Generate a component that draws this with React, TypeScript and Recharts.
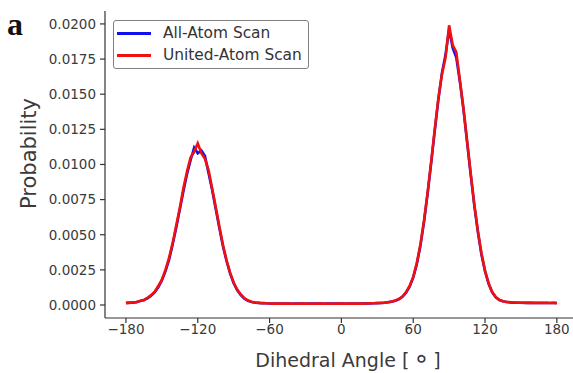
import React from "react";
import { LineChart, Line, XAxis, YAxis, Legend } from "recharts";

const angles = [
  -180, -177, -174, -171, -168, -165, -162, -159, -156, -153, -150, -147, -144, -141, -138, -135, -132, -129, -126, -123,
  -120, -117, -114, -111, -108, -105, -102, -99, -96, -93, -90, -87, -84, -81, -78, -75, -72, -69, -66, -63,
  -60, -57, -54, -51, -48, -45, -42, -39, -36, -33, -30, -27, -24, -21, -18, -15, -12, -9, -6, -3,
  0, 3, 6, 9, 12, 15, 18, 21, 24, 27, 30, 33, 36, 39, 42, 45, 48, 51, 54, 57,
  60, 63, 66, 69, 72, 75, 78, 81, 84, 87, 90, 93, 96, 99, 102, 105, 108, 111, 114, 117,
  120, 123, 126, 129, 132, 135, 138, 141, 144, 147, 150, 153, 156, 159, 162, 165, 168, 171, 174, 177,
  180,
];

const allAtomScan = [
  0.00015, 0.00018, 0.00016, 0.00022, 0.00028, 0.00036, 0.00048, 0.00066, 0.0009, 0.00125,
  0.00175, 0.0024, 0.0032, 0.0043, 0.0055, 0.0068, 0.0081, 0.0093, 0.0103, 0.0112,
  0.0108, 0.011, 0.0106, 0.0094, 0.0082, 0.00685, 0.0055, 0.0042, 0.00315, 0.00225,
  0.00155, 0.00105, 0.0007, 0.00045, 0.0003, 0.00022, 0.00017, 0.00015, 0.00013, 0.00012,
  0.00011,
  0.00011, 0.0001, 0.00011, 0.0001, 0.0001, 0.00009, 0.0001, 0.00011, 0.0001, 0.00009,
  0.0001, 0.0001, 0.00011, 0.0001, 0.00009, 0.0001, 0.0001, 0.00011, 0.0001, 0.0001,
  0.00009, 0.0001, 0.00011, 0.0001, 0.0001, 0.00011, 0.00012, 0.00011, 0.00012, 0.00013,
  0.00014, 0.00016,
  0.00019, 0.00024, 0.0003, 0.0004, 0.00058, 0.00088, 0.0013, 0.00195,
  0.0029, 0.0042, 0.0059, 0.0079, 0.0101, 0.0124, 0.0146, 0.0165, 0.0178, 0.0196,
  0.0183, 0.0176, 0.0159, 0.0139, 0.0116, 0.0093, 0.0071, 0.0052, 0.0036, 0.0024,
  0.0015, 0.0009, 0.00055, 0.00035, 0.00026, 0.00021, 0.00019, 0.00017, 0.00016, 0.00016,
  0.00015, 0.00016, 0.00015, 0.00014, 0.00015, 0.00014, 0.00015, 0.00014, 0.00015, 0.00014,
];

const unitedAtomScan = [
  0.00013, 0.00015, 0.00019, 0.0002, 0.0003, 0.00034, 0.00052, 0.0007, 0.00095, 0.00135,
  0.0018, 0.0025, 0.00335, 0.0044, 0.00565, 0.0069, 0.0083, 0.0095, 0.0105, 0.0109,
  0.0115, 0.0108, 0.0104, 0.0096, 0.0083, 0.007, 0.0056, 0.0043, 0.0032, 0.0023,
  0.0016, 0.0011, 0.00075, 0.00048, 0.00033, 0.00023, 0.00018, 0.00015, 0.00013, 0.00012,
  0.00011,
  0.0001, 0.00011, 0.0001, 0.0001, 0.00011, 0.0001, 0.00009, 0.0001, 0.00011, 0.0001,
  0.0001, 0.00009, 0.0001, 0.00011, 0.0001, 0.0001, 0.00009, 0.0001, 0.00011, 0.0001,
  0.0001, 0.00011, 0.0001, 0.0001, 0.00011, 0.0001, 0.00011, 0.00012, 0.00012, 0.00014,
  0.00015, 0.00017,
  0.0002, 0.00025, 0.00032, 0.00043, 0.0006, 0.00092, 0.00135, 0.002,
  0.003, 0.0043, 0.006, 0.008, 0.0102, 0.0125, 0.0147, 0.0164, 0.0176, 0.0199,
  0.0185, 0.018, 0.016, 0.014, 0.0117, 0.0094, 0.0072, 0.0053, 0.0037, 0.00245,
  0.00155, 0.00092, 0.00057, 0.00036, 0.00027, 0.00022, 0.00019, 0.00018, 0.00017, 0.00016,
  0.00016, 0.00015, 0.00015, 0.00015, 0.00014, 0.00015, 0.00014, 0.00014, 0.00014, 0.00013,
];

const xTicks = [-180, -120, -60, 0, 60, 120, 180];
const yTicks = [0, 0.0025, 0.005, 0.0075, 0.01, 0.0125, 0.015, 0.0175, 0.02];

const seriesNames = ["All-Atom Scan", "United-Atom Scan"];
const seriesColors = ["#1010f0", "#f01010"];

const data = angles.map((a, i) => ({
  angle: a,
  allAtom: allAtomScan[i],
  unitedAtom: unitedAtomScan[i],
}));

const FONT = "'DejaVu Sans', sans-serif";
const TICK_COLOR = "#3a3a3a";

const fmtX = (v: number) => (v < 0 ? "\u2212" + Math.abs(v) : String(v));
const fmtY = (v: number) => v.toFixed(4);

const LegendBox = () => (
  <div
    style={{
      position: "absolute",
      left: 113,
      top: 20,
      width: 196,
      height: 49,
      border: "1.5px solid #808080",
      borderRadius: 3,
      background: "#fff",
      fontFamily: FONT,
      fontSize: 15.4,
      color: "#333",
      boxSizing: "border-box",
    }}
  >
    {seriesNames.map((n, i) => (
      <div
        key={n}
        style={{
          position: "absolute",
          left: 3,
          top: 2 + i * 22,
          height: 20,
          display: "flex",
          alignItems: "center",
          whiteSpace: "nowrap",
        }}
      >
        <span
          style={{
            display: "inline-block",
            width: 34,
            height: 3,
            background: seriesColors[i],
            marginRight: 12,
          }}
        />
        <span>{n}</span>
      </div>
    ))}
  </div>
);

const XLabel = (props: any) => {
  const vb = props.viewBox || {};
  const cx = (vb.x || 0) + (vb.width || 0) / 2 + 9;
  const y = 367;
  return (
    <text x={cx} y={y} textAnchor="middle" fill="#3a3a3a" fontSize={19} fontFamily={FONT}>
      {"Dihedral Angle [\u2009"}
      <tspan fontSize={26}>{"\u2218"}</tspan>
      {"\u2009]"}
    </text>
  );
};

export default function App() {
  return (
    <div style={{ position: "absolute", left: 0, top: 0, width: 573, height: 373, background: "#fff", overflow: "hidden" }}>
      <LineChart
        width={573}
        height={373}
        data={data}
        margin={{ top: 11, right: 0, bottom: 0, left: 0 }}
      >
        <XAxis
          xAxisId="bottom"
          dataKey="angle"
          type="number"
          domain={[-197.5, 193.5]}
          allowDataOverflow
          ticks={xTicks}
          tickFormatter={fmtX}
          height={55}
          tickSize={5}
          tickMargin={1}
          stroke="#333"
          strokeWidth={1.2}
          tick={{ fill: TICK_COLOR, fontSize: 13.5, fontFamily: FONT }}
          label={<XLabel />}
        />
        <XAxis
          xAxisId="top"
          orientation="top"
          dataKey="angle"
          type="number"
          domain={[-197.5, 193.5]}
          allowDataOverflow
          height={0}
          tick={false}
          tickLine={false}
          stroke="#333"
          strokeWidth={1.2}
        />
        <YAxis
          type="number"
          domain={[-0.000925, 0.02092]}
          allowDataOverflow
          ticks={yTicks}
          tickFormatter={fmtY}
          width={105}
          tickSize={5}
          tickMargin={4}
          stroke="#333"
          strokeWidth={1.2}
          tick={{ fill: TICK_COLOR, fontSize: 13.5, fontFamily: FONT }}
          label={{
            value: "Probability",
            angle: -90,
            position: "center",
            dx: -24,
            dy: -11,
            fill: "#3a3a3a",
            fontSize: 21,
            fontFamily: FONT,
          }}
        />
        <Legend content={<LegendBox />} wrapperStyle={{ position: "absolute", left: 0, top: 0, width: 0, height: 0 }} />
        <Line
          xAxisId="bottom"
          type="linear"
          dataKey="allAtom"
          name={seriesNames[0]}
          stroke={seriesColors[0]}
          strokeWidth={2.6}
          dot={false}
          isAnimationActive={false}
        />
        <Line
          xAxisId="bottom"
          type="linear"
          dataKey="unitedAtom"
          name={seriesNames[1]}
          stroke={seriesColors[1]}
          strokeWidth={2.6}
          dot={false}
          isAnimationActive={false}
        />
      </LineChart>
      <svg style={{ position: "absolute", left: 0, top: 0 }} width={60} height={60}>
        <text x={7} y={35} fontFamily="'Liberation Serif', 'Times New Roman', serif" fontWeight="bold" fontSize={32} fill="#111">
          a
        </text>
      </svg>
    </div>
  );
}
